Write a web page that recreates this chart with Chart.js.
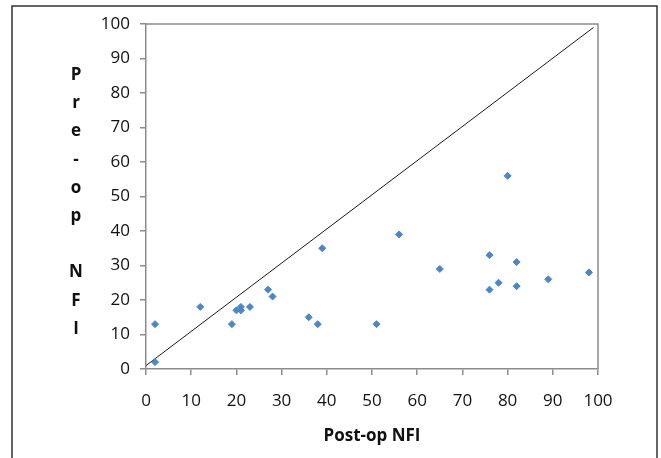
<!DOCTYPE html>
<html lang="en">
<head>
    <meta charset="UTF-8">
    <title>Pre-op vs Post-op NFI</title>
    <script src="https://cdn.jsdelivr.net/npm/chart.js"></script>
    <style>
        body {
            margin: 0;
            padding: 0;
            background: #fff;
        }
        .wrap {
            position: relative;
            width: 661px;
            height: 458px;
        }
    </style>
</head>
<body>

<div class="wrap">
    <canvas id="nfiChart"></canvas>
</div>

<script>
    // Post-op NFI (x) and Pre-op NFI (y) for each patient
    const postOp = [2, 2, 12, 19, 20, 21, 21, 23, 27, 28, 36, 38, 39, 51, 56, 65, 76, 76, 78, 80, 82, 82, 89, 98];
    const preOp  = [13, 2, 18, 13, 17, 18, 17, 18, 23, 21, 15, 13, 35, 13, 39, 29, 33, 23, 25, 56, 31, 24, 26, 28];

    // line of equality
    const refX = [0, 99];
    const refY = [1, 99];

    const axisTicks = [0, 10, 20, 30, 40, 50, 60, 70, 80, 90, 100];
    const yTitleLetters = ['P', 'r', 'e', '-', 'o', 'p', '', 'N', 'F', 'I'];

    const points = postOp.map((x, i) => ({ x: x, y: preOp[i] }));
    const refLine = refX.map((x, i) => ({ x: x, y: refY[i] }));

    // frame, plot box and the stacked y title
    const decorations = {
        id: 'decorations',
        beforeDatasetsDraw(chart) {
            const c = chart.ctx;
            const a = chart.chartArea;
            c.save();
            c.strokeStyle = '#8c8c8c';
            c.lineWidth = 1.5;
            c.beginPath();
            c.moveTo(a.left, a.top);
            c.lineTo(a.right, a.top);
            c.lineTo(a.right, a.bottom);
            c.stroke();
            c.restore();
        },
        afterDraw(chart) {
            const c = chart.ctx;
            c.save();
            c.strokeStyle = '#333';
            c.lineWidth = 1.5;
            c.beginPath();
            c.moveTo(12, 460);
            c.lineTo(12, 6);
            c.lineTo(657, 6);
            c.lineTo(657, 460);
            c.stroke();

            c.fillStyle = '#111';
            c.font = 'bold 17px "Open Sans"';
            c.textAlign = 'center';
            c.textBaseline = 'alphabetic';
            yTitleLetters.forEach((ch, i) => {
                c.fillText(ch, 76, 80 + i * 28.2);
            });
            c.restore();
        }
    };

    const ctx = document.getElementById('nfiChart').getContext('2d');
    new Chart(ctx, {
        type: 'scatter',
        data: {
            datasets: [
                {
                    label: 'Patients',
                    data: points,
                    pointStyle: 'rectRot',
                    pointRadius: 3.5,
                    backgroundColor: '#4a86c8',
                    borderColor: '#4a86c8',
                    borderWidth: 1
                },
                {
                    label: 'Equality',
                    type: 'line',
                    data: refLine,
                    borderColor: '#1a1a1a',
                    borderWidth: 1,
                    pointRadius: 0,
                    fill: false
                }
            ]
        },
        options: {
            responsive: true,
            maintainAspectRatio: false,
            animation: false,
            layout: {
                padding: { left: 0, top: 24, right: 63, bottom: 0 }
            },
            plugins: {
                legend: { display: false },
                tooltip: { enabled: false }
            },
            scales: {
                x: {
                    type: 'linear',
                    min: 0,
                    max: 100,
                    afterBuildTicks: (scale) => { scale.ticks = axisTicks.map(v => ({ value: v })); },
                    afterFit: (scale) => { scale.height = 89; },
                    grid: {
                        drawOnChartArea: false,
                        drawTicks: true,
                        tickLength: 6,
                        color: '#8c8c8c',
                        lineWidth: 1.5
                    },
                    border: { color: '#8c8c8c', width: 1.5 },
                    ticks: {
                        color: '#111',
                        padding: 16,
                        maxRotation: 0,
                        font: { family: '"Open Sans"', size: 17 }
                    },
                    title: {
                        display: true,
                        text: 'Post-op NFI',
                        color: '#111',
                        padding: { top: 0, bottom: 12 },
                        font: { family: '"Open Sans"', size: 17, weight: 'bold' }
                    }
                },
                y: {
                    type: 'linear',
                    min: 0,
                    max: 100,
                    afterBuildTicks: (scale) => { scale.ticks = axisTicks.map(v => ({ value: v })); },
                    afterFit: (scale) => { scale.width = 146; },
                    grid: {
                        drawOnChartArea: false,
                        drawTicks: true,
                        tickLength: 6,
                        color: '#8c8c8c',
                        lineWidth: 1.5
                    },
                    border: { color: '#8c8c8c', width: 1.5 },
                    ticks: {
                        color: '#111',
                        padding: 10,
                        font: { family: '"Open Sans"', size: 17 }
                    }
                }
            }
        },
        plugins: [decorations]
    });
</script>

</body>
</html>
